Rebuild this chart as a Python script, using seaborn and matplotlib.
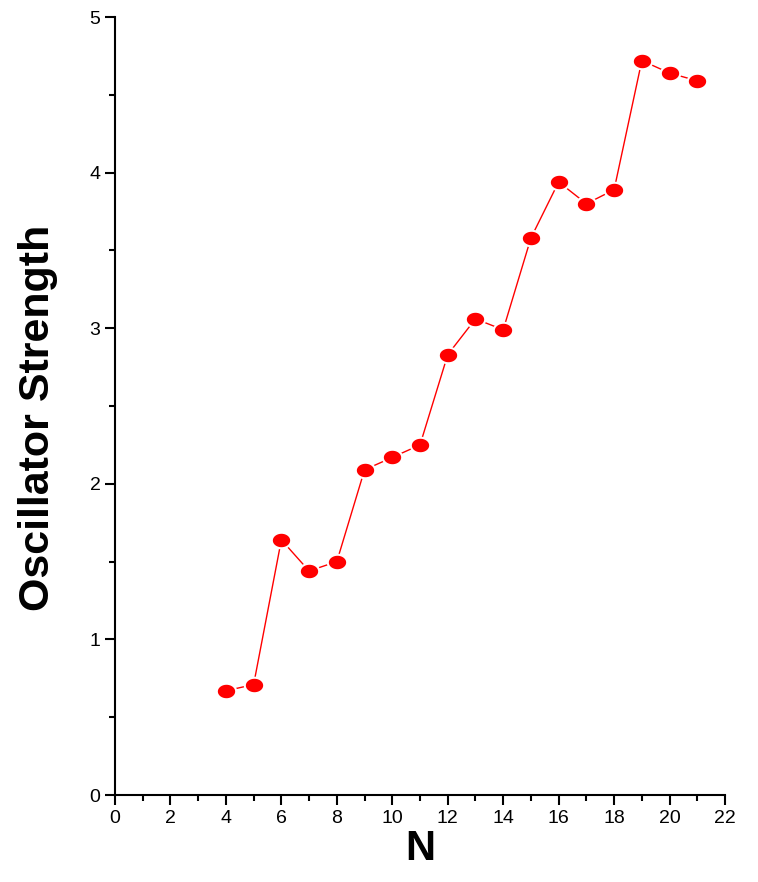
import numpy as np
import pandas as pd
import seaborn as sns
import matplotlib.pyplot as plt
from matplotlib.path import Path
from matplotlib.ticker import MultipleLocator

# Valores
n_values = [4, 5, 6, 7, 8, 9, 10, 11, 12, 13, 14, 15, 16, 17, 18, 19, 20, 21]
strength = [0.67, 0.71, 1.64, 1.44, 1.50, 2.09, 2.17, 2.25, 2.83, 3.06, 2.99,
            3.58, 3.94, 3.80, 3.89, 4.72, 4.64, 4.59]

df = pd.DataFrame({'N': n_values, 'Oscillator Strength': strength})

sns.set_style('ticks')
plt.rcParams['font.family'] = ['Liberation Sans', 'DejaVu Sans']
plt.rcParams['text.color'] = 'black'
plt.rcParams['axes.labelcolor'] = 'black'
plt.rcParams['xtick.color'] = 'black'
plt.rcParams['ytick.color'] = 'black'

# marcador elíptico (um pouco achatado)
t = np.linspace(0, 2 * np.pi, 40)
ellipse = Path(np.column_stack([np.cos(t), 0.8 * np.sin(t)]), closed=True)

fig = plt.figure(figsize=(7.58, 8.82), dpi=100)
ax = fig.add_axes([0.1517, 0.0986, 0.8048, 0.8821])
sns.lineplot(data=df, x='N', y='Oscillator Strength', ax=ax, color='#ff0000',
             linewidth=1, marker=ellipse, markersize=14,
             markerfacecolor='#ff0000', markeredgecolor='white', markeredgewidth=1.5)

ax.set_xlim(0, 22)
ax.set_ylim(0, 5)
ax.xaxis.set_major_locator(MultipleLocator(2))
ax.xaxis.set_minor_locator(MultipleLocator(1))
ax.yaxis.set_major_locator(MultipleLocator(1))
ax.yaxis.set_minor_locator(MultipleLocator(0.5))
ax.tick_params(which='major', length=7, width=1.5, labelsize=14)
ax.tick_params(which='minor', length=4, width=1.5)
for s in ['left', 'bottom']:
    ax.spines[s].set_linewidth(1.5)
    ax.spines[s].set_color('black')
sns.despine(ax=ax)

ax.set_xlabel('N', fontsize=30, fontweight='bold', labelpad=2)
ax.set_ylabel('Oscillator Strength', fontsize=31, fontweight='bold')
ax.yaxis.set_label_coords(-0.093, 0.485)

fig.savefig('out.png', dpi=100)
